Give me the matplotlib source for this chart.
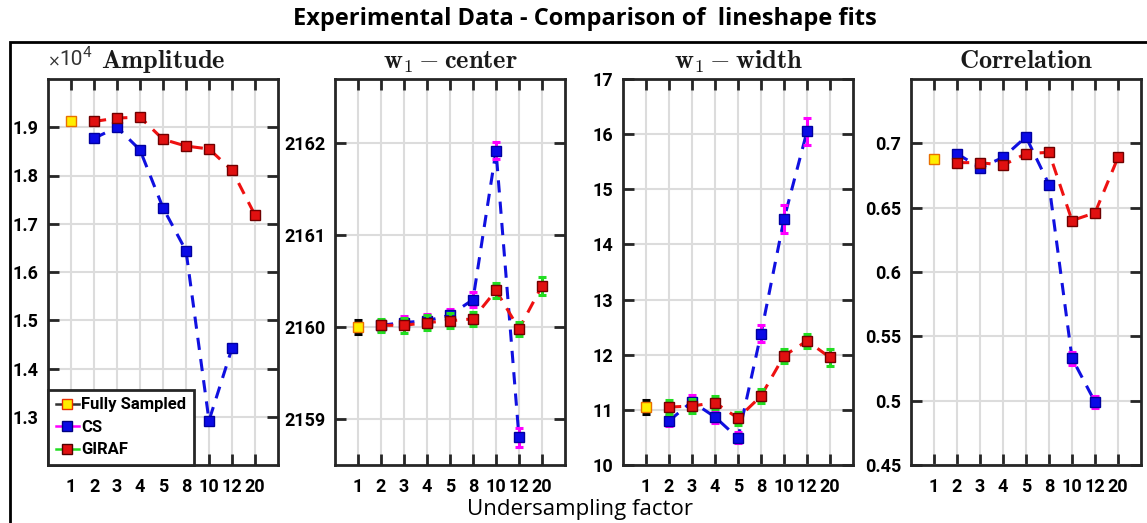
import matplotlib
matplotlib.use("Agg")
import matplotlib.pyplot as plt
import numpy as np
from matplotlib.lines import Line2D
from matplotlib.patches import Rectangle

plt.rcParams["mathtext.fontset"] = "cm"

# ---- data ----
factors = ["1", "2", "3", "4", "5", "8", "10", "12", "20"]
nan = np.nan

amp_full, amp_full_err = 1.912, 0.003
amp_cs = [nan, 1.877, 1.900, 1.853, 1.733, 1.644, 1.292, 1.442, nan]
amp_cs_err = [nan, 0.004, 0.004, 0.004, 0.004, 0.004, 0.005, 0.004, nan]
amp_giraf = [nan, 1.912, 1.919, 1.921, 1.875, 1.861, 1.855, 1.811, 1.718]
amp_giraf_err = [nan, 0.004, 0.005, 0.004, 0.004, 0.004, 0.004, 0.004, 0.006]

cen_full, cen_full_err = 2160.00, 0.08
cen_cs = [nan, 2160.02, 2160.05, 2160.07, 2160.13, 2160.30, 2161.92, 2158.80, nan]
cen_cs_err = [nan, 0.06, 0.07, 0.07, 0.07, 0.08, 0.09, 0.10, nan]
cen_giraf = [nan, 2160.02, 2160.02, 2160.05, 2160.07, 2160.09, 2160.40, 2159.98, 2160.45]
cen_giraf_err = [nan, 0.07, 0.08, 0.08, 0.08, 0.08, 0.08, 0.08, 0.10]

wid_full, wid_full_err = 11.05, 0.13
wid_cs = [nan, 10.80, 11.15, 10.87, 10.49, 12.38, 14.46, 16.05, nan]
wid_cs_err = [nan, 0.10, 0.12, 0.10, 0.10, 0.15, 0.25, 0.25, nan]
wid_giraf = [nan, 11.05, 11.07, 11.13, 10.85, 11.25, 11.98, 12.25, 11.95]
wid_giraf_err = [nan, 0.12, 0.12, 0.12, 0.12, 0.12, 0.13, 0.13, 0.15]

cor_full, cor_full_err = 0.688, 0.002
cor_cs = [nan, 0.692, 0.681, 0.689, 0.705, 0.668, 0.533, 0.499, nan]
cor_cs_err = [nan, 0.003, 0.003, 0.003, 0.003, 0.003, 0.005, 0.005, nan]
cor_giraf = [nan, 0.685, 0.685, 0.683, 0.692, 0.693, 0.640, 0.646, 0.689]
cor_giraf_err = [nan, 0.003, 0.003, 0.003, 0.003, 0.003, 0.003, 0.003, 0.003]

panels = [
    dict(full=amp_full, full_err=amp_full_err, cs=amp_cs, cs_err=amp_cs_err,
         giraf=amp_giraf, giraf_err=amp_giraf_err, ylim=(1.2, 2.0),
         yticks=[1.3, 1.4, 1.5, 1.6, 1.7, 1.8, 1.9],
         ylabels=["1.3", "1.4", "1.5", "1.6", "1.7", "1.8", "1.9"],
         title=r"$\mathbf{Amplitude}$"),
    dict(full=cen_full, full_err=cen_full_err, cs=cen_cs, cs_err=cen_cs_err,
         giraf=cen_giraf, giraf_err=cen_giraf_err, ylim=(2158.5, 2162.7),
         yticks=[2159, 2160, 2161, 2162],
         ylabels=["2159", "2160", "2161", "2162"],
         title=r"$\mathbf{w_1 - center}$"),
    dict(full=wid_full, full_err=wid_full_err, cs=wid_cs, cs_err=wid_cs_err,
         giraf=wid_giraf, giraf_err=wid_giraf_err, ylim=(10, 17),
         yticks=[10, 11, 12, 13, 14, 15, 16, 17],
         ylabels=["10", "11", "12", "13", "14", "15", "16", "17"],
         title=r"$\mathbf{w_1 - width}$"),
    dict(full=cor_full, full_err=cor_full_err, cs=cor_cs, cs_err=cor_cs_err,
         giraf=cor_giraf, giraf_err=cor_giraf_err, ylim=(0.45, 0.75),
         yticks=[0.45, 0.5, 0.55, 0.6, 0.65, 0.7],
         ylabels=["0.45", "0.5", "0.55", "0.6", "0.65", "0.7"],
         title=r"$\mathbf{Correlation}$"),
]

W, H = 1147, 523
fig = plt.figure(figsize=(W / 100, H / 100), dpi=100)

# axes boxes in pixels: left, right; shared top/bottom
lefts = [48, 335, 623, 911]
ax_w = 230
top, bottom = 79, 465

x = np.arange(1, len(factors) + 1)
tick_font = dict(family="Roboto", weight="bold", size=13)
spine_c = "#262626"

for i, p in enumerate(panels):
    ax = fig.add_axes([lefts[i] / W, 1 - bottom / H, ax_w / W, (bottom - top) / H])
    cs = np.array(p["cs"], float)
    gi = np.array(p["giraf"], float)

    ax.plot(x, cs, ls="--", color="#1010e0", lw=2.2, dashes=(4, 3), zorder=3)
    ax.errorbar(x, cs, yerr=p["cs_err"], fmt="s", ms=7, mfc="#0a0ae6", mec="#0000a0",
                ecolor="#ff00ff", elinewidth=2.2, capsize=3, capthick=2.2, zorder=4)
    ax.plot(x, gi, ls="--", color="#ee1111", lw=2.2, dashes=(4, 3), zorder=5)
    ax.errorbar(x, gi, yerr=p["giraf_err"], fmt="s", ms=7, mfc="#e01010", mec="#700000",
                ecolor="#22dd22", elinewidth=2.2, capsize=3, capthick=2.2, zorder=6)
    ax.errorbar([1], [p["full"]], yerr=[p["full_err"]], fmt="s", ms=7, mfc="#ffee00",
                mec="#e87000", ecolor="black", elinewidth=2.2, capsize=3, capthick=2.2,
                zorder=7)

    ax.set_xlim(0, 10)
    ax.set_ylim(*p["ylim"])
    ax.set_xticks(x)
    ax.set_xticklabels(factors, fontdict=tick_font)
    ax.set_yticks(p["yticks"])
    ax.set_yticklabels(p["ylabels"], fontdict=tick_font)
    ax.tick_params(direction="in", top=True, right=True, length=8, width=2,
                   color=spine_c, pad=9)
    ax.tick_params(axis="y", pad=7)
    ax.grid(True, color="#dcdcdc", lw=1.5)
    ax.set_axisbelow(True)
    for s in ax.spines.values():
        s.set_linewidth(2)
        s.set_color(spine_c)
    ax.set_title(p["title"], fontsize=19, pad=8, color="#1a1a1a")

    if i == 0:
        # x10^4 exponent label, MATLAB style
        ax.text(0.0, 1.025, "\u00d7", transform=ax.transAxes, family="DejaVu Sans",
                fontsize=11, ha="left", va="bottom", color="#333333")
        ax.text(0.05, 1.025, "10", transform=ax.transAxes, family="Roboto",
                fontsize=15, ha="left", va="bottom", color="#333333")
        ax.text(0.15, 1.05, "4", transform=ax.transAxes, family="Roboto",
                fontsize=11, ha="left", va="bottom", color="#333333")
        handles = [
            Line2D([], [], color="#333333", lw=1.8, marker="s", ms=7,
                   mfc="#ffee00", mec="#e83000"),
            Line2D([], [], color="#ff00ff", lw=1.8, marker="s", ms=7,
                   mfc="#0a0ae6", mec="#000080"),
            Line2D([], [], color="#22dd22", lw=1.8, marker="s", ms=7,
                   mfc="#e01010", mec="#500000"),
        ]
        leg = ax.legend(handles, ["Fully Sampled", "CS", "GIRAF"], loc="lower left",
                        bbox_to_anchor=(0, 0), borderaxespad=0, handlelength=1.4,
                        handletextpad=0.15, borderpad=0.45, labelspacing=0.45,
                        fancybox=False, framealpha=1,
                        prop=dict(family="Roboto", weight="bold", size=12))
        leg.get_frame().set_edgecolor(spine_c)
        leg.get_frame().set_linewidth(2)
        leg.set_zorder(10)

# outer frame
fig.add_artist(Rectangle((10 / W, -0.05), 1.2, 1 - 42 / H + 0.05, transform=fig.transFigure,
                         fill=False, ec="black", lw=2))

fig.text(585 / W, 1 - 19 / H, "Experimental Data - Comparison of  lineshape fits",
         family="Open Sans", weight="bold", fontsize=17, ha="center", va="center")
fig.text(580 / W, 1 - 509 / H, "Undersampling factor", family="Open Sans",
         fontsize=16, ha="center", va="center")

fig.savefig("out.png", dpi=100)
